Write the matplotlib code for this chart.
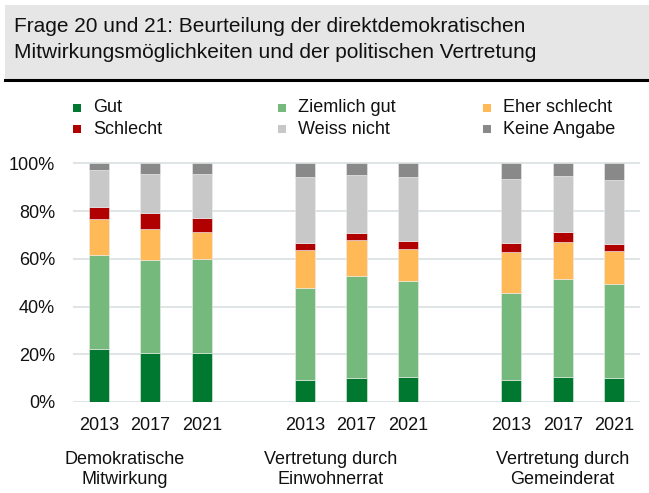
import matplotlib.pyplot as plt
import numpy as np
from matplotlib.ticker import PercentFormatter
from matplotlib.patches import Rectangle

plt.rcParams['font.family'] = ['Liberation Sans', 'DejaVu Sans']

jahre = ['2013', '2017', '2021'] * 3
positionen = [0, 1, 2, 4, 5, 6, 8, 9, 10]
gruppen = ['Demokratische\nMitwirkung', 'Vertretung durch\nEinwohnerrat', 'Vertretung durch\nGemeinderat']
gruppen_x = [0.5, 4.5, 9.0]

kategorien = ['Gut', 'Ziemlich gut', 'Eher schlecht', 'Schlecht', 'Weiss nicht', 'Keine Angabe']
farben = ['#00782f', '#76b97c', '#ffb957', '#b00000', '#c8c8c8', '#898989']

# Anteile in %, je Balken
gut = [22.1, 20.6, 20.6, 9.1, 10.1, 10.3, 9.1, 10.5, 10.1]
ziemlich_gut = [39.4, 39.0, 39.4, 38.7, 42.8, 40.3, 36.4, 41.1, 39.4]
eher_schlecht = [15.3, 12.8, 11.3, 16.0, 14.8, 13.7, 17.3, 15.4, 13.7]
schlecht = [4.9, 6.6, 5.8, 2.8, 3.1, 3.3, 3.6, 4.3, 3.1]
weiss_nicht = [15.5, 16.4, 18.4, 27.7, 24.3, 26.7, 27.2, 23.4, 26.7]
keine_angabe = [2.8, 4.6, 4.5, 5.7, 4.9, 5.7, 6.4, 5.3, 7.0]

werte = [gut, ziemlich_gut, eher_schlecht, schlecht, weiss_nicht, keine_angabe]

fig = plt.figure(figsize=(6.49, 4.93), dpi=100)
W, H = 649, 493

# Titelkasten
fig.patches.append(Rectangle((5 / W, 1 - 79 / H), 644 / W, 74 / H, transform=fig.transFigure,
                             facecolor='#e6e6e6', edgecolor='none', zorder=0))
fig.lines.append(plt.Line2D([5 / W, 1], [1 - 80 / H, 1 - 80 / H], transform=fig.transFigure,
                            color='black', linewidth=2.2))
fig.text(14 / W, 1 - 32 / H, 'Frage 20 und 21: Beurteilung der direktdemokratischen',
         fontsize=15, va='baseline', ha='left', color='#111111')
fig.text(14 / W, 1 - 58 / H, 'Mitwirkungsmöglichkeiten und der politischen Vertretung',
         fontsize=15, va='baseline', ha='left', color='#111111')

# Legende
spalten_x = [73, 278, 483]
zeilen_y = [108, 129.5]
for i, (kat, farbe) in enumerate(zip(kategorien, farben)):
    x = spalten_x[i % 3]
    y = zeilen_y[i // 3]
    fig.patches.append(Rectangle((x / W, 1 - (y + 4) / H), 7.5 / W, 8 / H, transform=fig.transFigure,
                                 facecolor=farbe, edgecolor='none'))
    fig.text((x + 20) / W, 1 - y / H, kat, fontsize=13, va='center', ha='left', color='#111111')

ax = fig.add_axes([73 / W, 1 - 402 / H, 567 / W, (402 - 160.9) / H])

unten = np.zeros(len(positionen))
for kat, farbe, serie in zip(kategorien, farben, werte):
    ax.bar(positionen, serie, bottom=unten, width=0.39, color=farbe,
           edgecolor='#eeeeee', linewidth=0.4, label=kat, zorder=3)
    unten += np.array(serie)

ax.set_xlim(-0.5, 10.5)
ax.set_ylim(0, 101)
ax.set_yticks([0, 20, 40, 60, 80, 100])
ax.yaxis.set_major_formatter(PercentFormatter(decimals=0))
ax.set_xticks(positionen)
ax.set_xticklabels(jahre)
ax.tick_params(axis='both', length=0, labelsize=13, colors='#111111')
ax.tick_params(axis='y', pad=13)
ax.tick_params(axis='x', pad=11)
ax.grid(axis='y', color='#d9dfe3', linewidth=1.2, zorder=0)
for s in ax.spines.values():
    s.set_visible(False)

for gx, g in zip(gruppen_x, gruppen):
    ax.text(gx, -28.4, g, fontsize=13, ha='center', va='center', linespacing=1.2,
            color='#111111', transform=ax.transData, clip_on=False)

fig.savefig('out.png', dpi=100)
